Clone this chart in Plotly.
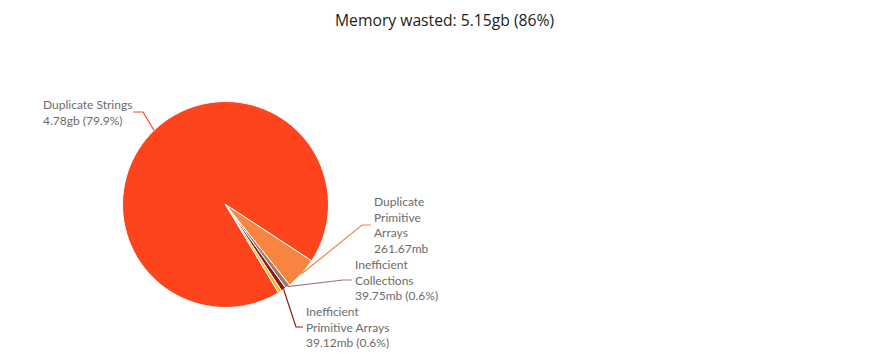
import math
import plotly.graph_objects as go

# ---- data ----
categories = ["Duplicate Strings", "Duplicate Primitive Arrays", "Inefficient Collections",
              "Inefficient Primitive Arrays", "Other"]
values_mb = [4780.0, 261.67, 39.75, 39.12, 29.0]
label_texts = [
    "Duplicate Strings<br>4.78gb (79.9%)",
    "Duplicate<br>Primitive<br>Arrays<br>261.67mb",
    "Inefficient<br>Collections<br>39.75mb (0.6%)",
    "Inefficient<br>Primitive Arrays<br>39.12mb (0.6%)",
    None,
]
title_text = "Memory wasted: 5.15gb (86%)"

# ---- style / layout ----
colors = ["#FD441C", "#F7843F", "#A57A72", "#8C1E10", "#F9B531"]
OFF = 8  # default page body margin
W, H = 885, 348
CX, CY, R = 225.5, 204.5, 103.0  # page pixel coords
ROTATION = 149.0

# label placement (page pixels): text left x, text block centre y, elbow x, line end x
label_layout = [
    dict(tx=41, ty=112, ex=143, endx=133),
    dict(tx=372, ty=225, ex=362, endx=371),
    dict(tx=353, ty=280, ex=343, endx=352),
    dict(tx=304, ty=327, ex=296, endx=303),
    None,
]


def px(x):
    return (x - OFF) / W


def py(y):
    return 1 - (y - OFF) / H


fig = go.Figure(go.Pie(
    labels=categories,
    values=values_mb,
    marker=dict(colors=colors, line=dict(color="white", width=1)),
    textinfo="none",
    sort=False,
    direction="clockwise",
    rotation=ROTATION,
    domain=dict(x=[px(CX - R), px(CX + R)], y=[py(CY + R), py(CY - R)]),
    showlegend=False,
    hovertemplate="%{label}: %{value:.2f}mb<extra></extra>",
))

total = sum(values_mb)
cum = 0.0
shapes = []
annotations = []
for i, v in enumerate(values_mb):
    start = ROTATION + 360.0 * cum / total
    mid = start + 180.0 * v / total
    cum += v
    lay = label_layout[i]
    if lay is None:
        continue
    a = math.radians(mid)
    sx = CX + R * math.sin(a)
    sy = CY - R * math.cos(a)
    path = "M {:.4f} {:.4f} L {:.4f} {:.4f} L {:.4f} {:.4f}".format(
        px(sx), py(sy), px(lay["ex"]), py(lay["ty"]), px(lay["endx"]), py(lay["ty"]))
    shapes.append(dict(type="path", xref="paper", yref="paper", path=path,
                       line=dict(color=colors[i], width=1.2)))
    annotations.append(dict(
        x=px(lay["tx"]), y=py(lay["ty"]), xref="paper", yref="paper",
        xanchor="left", yanchor="middle", align="left", showarrow=False,
        text=label_texts[i], font=dict(family="Lato", size=12, color="#6b6b6b")))

# faint right border line
shapes.append(dict(type="line", xref="paper", yref="paper", x0=px(891.5), x1=px(891.5),
                   y0=py(8), y1=py(355), line=dict(color="#e6e6e6", width=1)))

annotations.append(dict(
    x=px(444), y=py(20), xref="paper", yref="paper", xanchor="center", yanchor="middle",
    showarrow=False, text=title_text,
    font=dict(family="Open Sans", size=15.7, color="#222222")))

fig.update_layout(
    width=W, height=H,
    margin=dict(l=0, r=0, t=0, b=0),
    paper_bgcolor="white", plot_bgcolor="white",
    shapes=shapes, annotations=annotations,
)

fig.write_html("out.html")
